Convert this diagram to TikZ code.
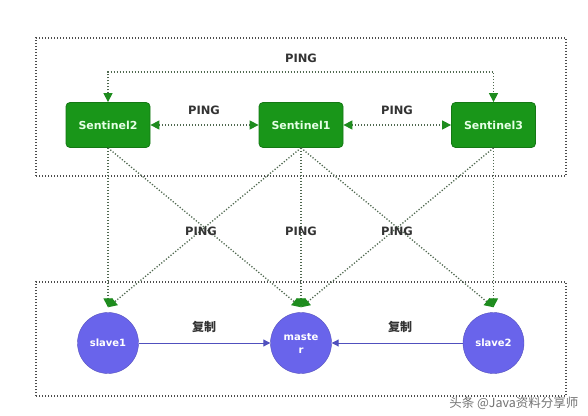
\documentclass[tikz,border=0pt]{standalone}
\usepackage{fontspec}
\setmainfont{DejaVu Sans}
\newfontfamily\cjk{Noto Sans CJK SC}
\usetikzlibrary{arrows.meta}
\definecolor{sgreen}{RGB}{25,150,25}
\definecolor{sgreenD}{RGB}{20,120,20}
\definecolor{tipgreen}{RGB}{30,140,30}
\definecolor{cblue}{RGB}{105,100,235}
\definecolor{repl}{RGB}{80,80,190}
\definecolor{dotc}{RGB}{80,105,80}
\begin{document}
\begin{tikzpicture}[x=1pt,y=1pt,
  sentbox/.style={draw=sgreenD,fill=sgreen,rounded corners=4pt,minimum width=84pt,minimum height=45pt,
    text=green!10!white,font=\bfseries\fontsize{11}{13}\selectfont,line width=0.8pt},
  redis/.style={circle,fill=cblue,draw=cblue!80!black,line width=0.4pt,minimum size=61pt,inner sep=0pt,
    text=white,font=\bfseries\fontsize{10}{13}\selectfont,align=center},
  grp/.style={draw=black!70,line width=1.2pt,dash pattern=on 1.2pt off 1.8pt},
  ping/.style={draw=dotc,line width=1.3pt,dash pattern=on 1.2pt off 1.8pt,
    -{Triangle[length=9pt,width=9pt,fill=tipgreen,color=tipgreen]}},
  pingb/.style={ping,{Triangle[length=9pt,width=9pt,fill=tipgreen,color=tipgreen]}-{Triangle[length=9pt,width=9pt,fill=tipgreen,color=tipgreen]}},
  lbl/.style={text=black!80,font=\bfseries\fontsize{11.5}{13}\selectfont},
  copyarr/.style={draw=repl,line width=1pt,-{Triangle[length=7pt,width=7pt]}},
  cn/.style={text=black!80,font=\cjk\bfseries\fontsize{12}{14}\selectfont}
]
\useasboundingbox (0,0) rectangle (588,415);
\fill[white] (0,0) rectangle (588,415);
% group boxes
\draw[grp] (36,239) rectangle (566,377);
\draw[grp] (36,19) rectangle (566,133);
% sentinels
\node[sentbox] (s2) at (108,290) {Sentinel2};
\node[sentbox] (s1) at (301,290) {Sentinel1};
\node[sentbox] (s3) at (493.5,290) {Sentinel3};
% redis nodes
\node[redis] (sl1) at (108,72) {slave1};
\node[redis] (ms) at (301,72) {maste\\r};
\node[redis] (sl2) at (493.5,72) {slave2};
\coordinate (t1) at ([yshift=5pt]sl1.north);
\coordinate (tm) at ([yshift=5pt]ms.north);
\coordinate (t2) at ([yshift=5pt]sl2.north);
% ping among sentinels
\coordinate (tl) at (108,343);
\coordinate (tr) at (493.5,343);
\draw[pingb] (s2.north) -- (tl) -- (tr) -- (s3.north);
\node[lbl] (p0) at (301,357) {PING};
\draw[pingb] (s2.east) -- (s1.west);
\draw[pingb] (s1.east) -- (s3.west);
\node[lbl] (p1) at (204,305) {PING};
\node[lbl] (p2) at (397,305) {PING};
% ping to redis
\draw[ping] (s2.south) -- (t1);
\draw[ping] (s2.south) -- (tm);
\draw[ping] (s1.south) -- (t1);
\draw[ping] (s1.south) -- (tm);
\draw[ping] (s1.south) -- (t2);
\draw[ping] (s3.south) -- (tm);
\draw[ping] (s3.south) -- (t2);
\node[lbl] (p3) at (201,184) {PING};
\node[lbl] (p4) at (301,184) {PING};
\node[lbl] (p5) at (397,184) {PING};
% replication
\draw[copyarr] (sl1.east) -- (ms.west);
\draw[copyarr] (sl2.west) -- (ms.east);
\node[cn] (c1) at (204,88) {复制};
\node[cn] (c2) at (400,88) {复制};
% watermark
\node[text=black!55,font=\cjk\fontsize{12.5}{14}\selectfont,anchor=east] (wm) at (582,12) {头条 @Java资料分享师};
\end{tikzpicture}
\end{document}
